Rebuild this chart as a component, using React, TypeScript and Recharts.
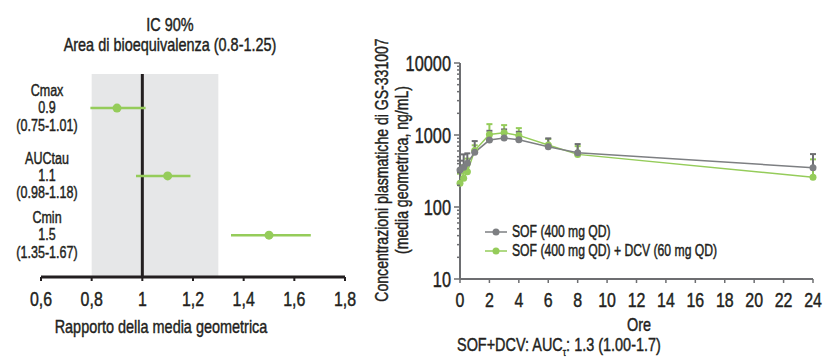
import React from 'react'
import {
  ComposedChart, Scatter, XAxis, YAxis, ReferenceArea, ReferenceLine,
  ErrorBar, LineChart, Line,
} from 'recharts'

// no condensed font installed: Liberation Sans squeezed horizontally, slightly stroked
const FONT = '"Liberation Sans", Arial, sans-serif'
const SQ = 0.76
const INK = '#231f20'
const GREEN = '#95cc5a'
const GREY = '#7d7f82'
const AXIS_GREY = '#6d6e71'

/* ── forest plot (sinistra) ── */
const metrics = ['Cmax', 'AUCtau', 'Cmin']
const ratio = [0.9, 1.1, 1.5]
const ciLow = [0.795, 0.975, 1.35]
const ciHigh = [1.013, 1.19, 1.665]
const ciText = ['(0.75-1.01)', '(0.98-1.18)', '(1.35-1.67)']
const rowPos = [4.16, 2.49, 1.03]
const ratioTicks = [0.6, 0.8, 1, 1.2, 1.4, 1.6, 1.8]

/* ── profilo PK (destra) ── */
const hours = [0, 0.25, 0.5, 1, 2, 3, 4, 6, 8, 24]
const sofMean = [326, 356, 405, 574, 850, 906, 859, 687, 567, 351]
const sofUpper = [440, 538, 556, 823, 1143, 1196, 1109, 898, 748, 543]
const dcvMean = [214, 250, 309, 607, 1019, 1072, 987, 725, 538, 259]
const dcvUpper = [290, 380, 470, 720, 1415, 1372, 1246, 880, 700, 459]
const hourTicks = [0, 2, 4, 6, 8, 10, 12, 14, 16, 18, 20, 22, 24]
const majorTicks = [10, 100, 1000, 10000]
const concTicks = [
  10, 20, 30, 40, 50, 60, 70, 80, 90,
  100, 200, 300, 400, 500, 600, 700, 800, 900,
  1000, 2000, 3000, 4000, 5000, 6000, 7000, 8000, 9000, 10000,
]

const forestData = metrics.map((m, i) => ({
  name: m, x: ratio[i], y: rowPos[i], err: [ratio[i] - ciLow[i], ciHigh[i] - ratio[i]],
}))

const pkData = hours.map((t, i) => ({
  t,
  sof: sofMean[i], sofErr: [0, sofUpper[i] - sofMean[i]],
  dcv: dcvMean[i], dcvErr: [0, dcvUpper[i] - dcvMean[i]],
}))

function SText({ x, y, size, anchor = 'middle', dy, sx = SQ, children }: any) {
  return (
    <text
      transform={`translate(${x},${y}) scale(${sx},1)`} textAnchor={anchor} dy={dy}
      fontFamily={FONT} fontSize={size} fill={INK} stroke={INK} strokeWidth={0.45}
    >
      {children}
    </text>
  )
}

const squeeze = (origin: string, sx = SQ): React.CSSProperties => ({
  transform: `scaleX(${sx})`, transformOrigin: origin, whiteSpace: 'nowrap',
  WebkitTextStroke: `0.45px ${INK}`,
})

function RowTick(props: any) {
  const i = rowPos.indexOf(props.payload.value)
  if (i < 0) return null
  const y = props.y - 1
  return (
    <g>
      <SText x={47} y={y - 17} size={16.5} dy="0.36em">{metrics[i]}</SText>
      <SText x={47} y={y} size={16.5} dy="0.36em">{ratio[i]}</SText>
      <SText x={47} y={y + 17.5} size={16.5} dy="0.36em">{ciText[i]}</SText>
    </g>
  )
}

function XTick(props: any) {
  const { x, y, payload, fmt } = props
  return <SText x={x} y={y} size={21} dy="0.71em">{fmt ? fmt(payload.value) : payload.value}</SText>
}

function LogTick(props: any) {
  const { x, y, payload } = props
  const ax = x + 10
  const major = majorTicks.includes(payload.value)
  return (
    <g>
      <line x1={ax - (major ? 6 : 3)} x2={ax} y1={y} y2={y} stroke={AXIS_GREY} strokeWidth={1.5} />
      {major && (
        <SText x={ax - 9} y={y} dy="0.36em" anchor="end" size={21.5}>{payload.value}</SText>
      )}
    </g>
  )
}

const commaFmt = (v: number) => String(v).replace('.', ',')

function ForestPlot() {
  return (
    <div style={{ position: 'absolute', left: 0, top: 0, width: 360, height: 358 }}>
      <div style={{ position: 'absolute', left: 0, width: 340, top: 15, textAlign: 'center', fontFamily: FONT, fontSize: 19, lineHeight: '20px', color: INK, ...squeeze('170px 0') }}>
        IC 90%<br />Area di bioequivalenza (0.8-1.25)
      </div>
      <ComposedChart width={360} height={358} data={forestData} margin={{ top: 74, right: 15, left: 0, bottom: 41 }}>
        <XAxis
          type="number" dataKey="x" domain={[0.6, 1.8]} ticks={ratioTicks} interval={0}
          axisLine={{ stroke: INK, strokeWidth: 3 }} tickLine={{ stroke: INK, strokeWidth: 2 }}
          tickSize={4} tickMargin={10} height={40}
          tick={<XTick fmt={commaFmt} />}
        />
        <YAxis
          type="number" dataKey="y" domain={[0, 5]} ticks={rowPos} interval={0} width={41}
          axisLine={false} tickLine={false} tick={<RowTick />}
        />
        <ReferenceArea x1={0.8} x2={1.3} fill="#e6e7e8" fillOpacity={1} stroke="none" />
        <ReferenceLine x={1} stroke={INK} strokeWidth={3} />
        <Scatter
          dataKey="y" isAnimationActive={false}
          shape={(p: any) => <circle cx={p.cx} cy={p.cy} r={4.5} fill={GREEN} />}
        >
          <ErrorBar dataKey="err" direction="x" stroke={GREEN} strokeWidth={2.5} width={0} />
        </Scatter>
      </ComposedChart>
      <div style={{ position: 'absolute', left: 0, width: 322, top: 316, textAlign: 'center', fontFamily: FONT, fontSize: 19, color: INK, ...squeeze('161px 0') }}>
        Rapporto della media geometrica
      </div>
    </div>
  )
}

function LegendRow({ color, label }: { color: string; label: string }) {
  return (
    <div style={{ display: 'flex', alignItems: 'center', height: 18.5 }}>
      <svg width={27} height={10}>
        <line x1={0} x2={22} y1={5} y2={5} stroke={color} strokeWidth={1.5} />
        <circle cx={11} cy={5} r={3.5} fill={color} />
      </svg>
      <span style={{ display: 'inline-block', ...squeeze('0 0') }}>{label}</span>
    </div>
  )
}

function PkPlot() {
  return (
    <div style={{ position: 'absolute', left: 360, top: 0, width: 472, height: 358 }}>
      <LineChart width={472} height={358} data={pkData} margin={{ top: 63, right: 19, left: 0, bottom: 41 }}>
        <XAxis
          type="number" dataKey="t" domain={[0, 24]} ticks={hourTicks} interval={0}
          axisLine={{ stroke: AXIS_GREY, strokeWidth: 2 }} tickLine={{ stroke: AXIS_GREY, strokeWidth: 1.5 }}
          tickSize={4} tickMargin={9} height={38}
          tick={<XTick />}
        />
        <YAxis
          type="number" scale="log" domain={[10, 10000]} ticks={concTicks} interval={0} width={100}
          allowDataOverflow axisLine={{ stroke: AXIS_GREY, strokeWidth: 2 }} tickLine={false}
          tickSize={6} tickMargin={4} tick={<LogTick />}
        />
        <Line
          dataKey="dcv" stroke={GREEN} strokeWidth={1.5} isAnimationActive={false}
          dot={{ r: 3.5, fill: GREEN, stroke: GREEN, strokeWidth: 0 }} activeDot={false}
        >
          <ErrorBar dataKey="dcvErr" direction="y" stroke={GREEN} strokeWidth={2} width={3} />
        </Line>
        <Line
          dataKey="sof" stroke={GREY} strokeWidth={1.5} isAnimationActive={false}
          dot={{ r: 3.5, fill: GREY, stroke: GREY, strokeWidth: 0 }} activeDot={false}
        >
          <ErrorBar dataKey="sofErr" direction="y" stroke={AXIS_GREY} strokeWidth={2} width={3} />
        </Line>
      </LineChart>
      <div style={{ position: 'absolute', left: 125, top: 223, fontFamily: FONT, fontSize: 16, color: INK, lineHeight: '18px' }}>
        <LegendRow color={GREY} label="SOF (400 mg QD)" />
        <LegendRow color={GREEN} label="SOF (400 mg QD) + DCV (60 mg QD)" />
      </div>
      <div style={{ position: 'absolute', left: 32, top: 170, width: 0, height: 0 }}>
        <div style={{
          position: 'absolute', left: -200, top: -20, width: 400, textAlign: 'center',
          fontFamily: FONT, fontSize: 19, lineHeight: '20px', color: INK, whiteSpace: 'nowrap',
          WebkitTextStroke: `0.45px ${INK}`,
          transform: `rotate(-90deg) scaleX(0.74)`, transformOrigin: '200px 20px',
        }}>
          Concentrazioni plasmatiche di GS-331007<br />(media geometrica, ng/mL)
        </div>
      </div>
      <div style={{ position: 'absolute', left: 259, width: 40, top: 314, textAlign: 'center', fontFamily: FONT, fontSize: 19, color: INK, ...squeeze('20px 0') }}>
        Ore
      </div>
      <div style={{ position: 'absolute', left: 97, top: 334, fontFamily: FONT, fontSize: 19, color: INK, ...squeeze('0 0') }}>
        SOF+DCV: AUC<sub style={{ fontSize: 11 }}>τ</sub>: 1.3 (1.00-1.7)
      </div>
    </div>
  )
}

export default function App() {
  return (
    <div style={{ position: 'fixed', left: 0, top: 0, width: 832, height: 358, background: '#fff', overflow: 'hidden' }}>
      <ForestPlot />
      <PkPlot />
    </div>
  )
}
